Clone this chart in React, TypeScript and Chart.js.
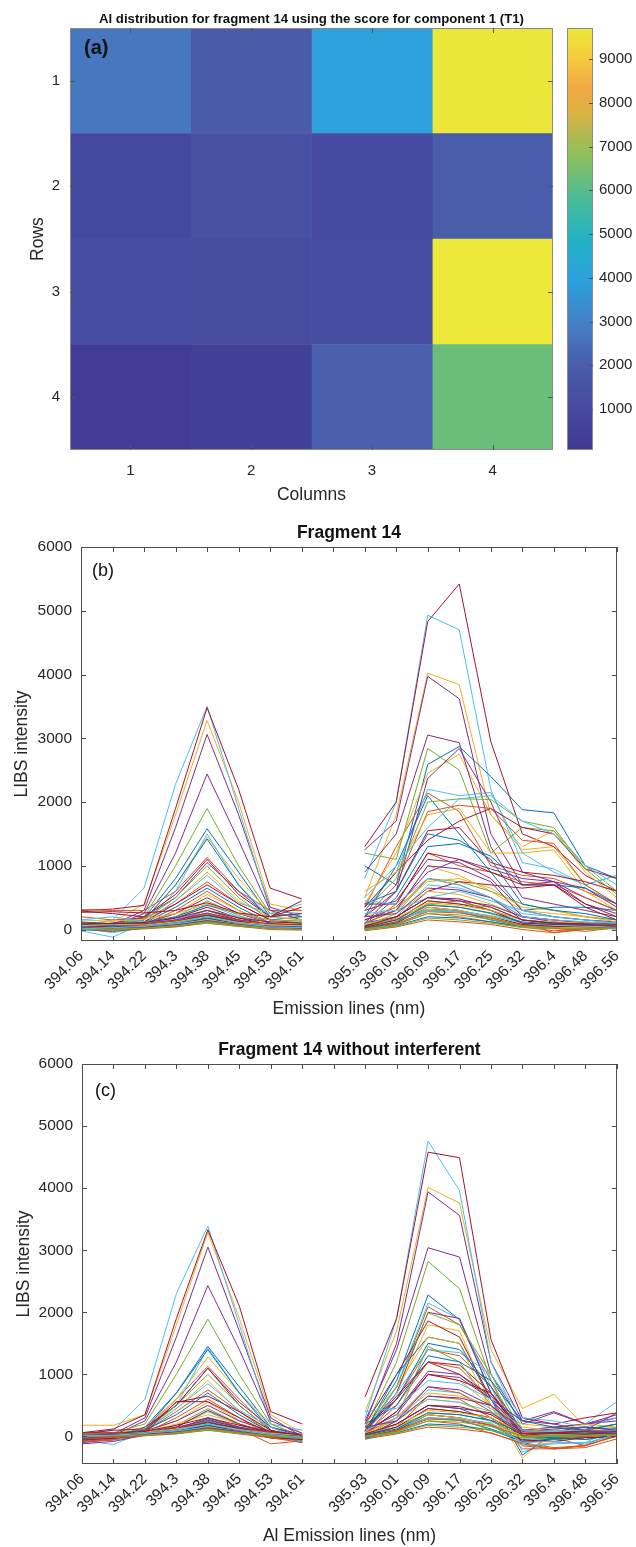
import React, { useEffect, useRef } from 'react';
import { Chart, registerables } from 'chart.js';

Chart.register(...registerables);

const FONT = '"Liberation Sans", Arial, Helvetica, sans-serif';
const TEXT = '#262626';
const AXIS = '#4d4d4d';
const PALETTE = ['#0072BD', '#D95319', '#EDB120', '#7E2F8E', '#77AC30', '#4DBEEE', '#A2142F'];

// ---------------- panel (a): heat map ----------------
const heatTitle = 'Al distribution for fragment 14 using the score for component 1 (T1)';
const heatPanelLabel = '(a)';
const rowLabels = ['1', '2', '3', '4'];
const columnNumbers = [1, 2, 3, 4];
const heatValues = [
  [2700, 1900, 3950, 9650],
  [950, 1400, 1100, 2000],
  [1200, 1150, 1200, 9700],
  [200, 500, 2050, 6300],
];
const colorbarMin = 63;
const colorbarMax = 9709;
const colorbarTicks = [1000, 2000, 3000, 4000, 5000, 6000, 7000, 8000, 9000];

// faded parula-like colour map (position 0..1, colour)
const CMAP: [number, string][] = [
  [0.0, '#3f3a94'],
  [0.1, '#4649a0'],
  [0.2, '#4a5dab'],
  [0.3, '#4480c6'],
  [0.4, '#2ca0dc'],
  [0.5, '#22b2c4'],
  [0.6, '#4cbc94'],
  [0.7, '#8ec05a'],
  [0.8, '#dcb244'],
  [0.86, '#f2a845'],
  [0.93, '#f6cc3c'],
  [1.0, '#ebe83a'],
];

// ---------------- panels (b) and (c): spectra ----------------
const linesLeft = ['394.06', '394.14', '394.22', '394.3', '394.38', '394.45', '394.53', '394.61'];
const linesRight = ['395.93', '396.01', '396.09', '396.17', '396.25', '396.32', '396.4', '396.48', '396.56'];
const intensityTicks = [0, 1000, 2000, 3000, 4000, 5000, 6000];
const intensityMax = 6000;
const rawMin = -180;
const cleanMin = -444;

// each row: 8 values on the left lines, then 9 values on the right lines
const rawSpectra = [
  [80, 40, 60, 150, 300, 150, 60, 80, 100, 150, 300, 280, 150, 60, 40, 60, 80],
  [30, 10, 40, 100, 220, 120, 40, 20, 20, 80, 250, 200, 120, 40, -20, 10, 40],
  [100, 120, 400, 1800, 3280, 2000, 400, 300, 500, 1800, 4020, 3840, 1800, 1250, 1300, 700, 400],
  [50, 80, 300, 1600, 3060, 1800, 350, 200, 1250, 1700, 3970, 3620, 1500, 700, 750, 500, 300],
  [20, 30, 50, 120, 250, 130, 50, 30, 30, 120, 320, 300, 180, 60, 50, 40, 70],
  [60, 150, 650, 2280, 3500, 1900, 300, 250, 800, 2000, 4930, 4700, 2200, 1050, 950, 700, 850],
  [300, 320, 380, 1900, 3480, 2200, 650, 480, 1300, 2000, 4830, 5420, 2950, 1500, 1300, 850, 600],
  [40, 100, 180, 800, 1580, 900, 200, 250, 1000, 700, 2590, 2870, 2400, 1880, 1830, 1000, 800],
  [310, 300, 300, 600, 1130, 600, 300, 300, 350, 1300, 2140, 1850, 1000, 850, 800, 600, 400],
  [20, 50, 150, 700, 1450, 800, 250, 200, 400, 1200, 2450, 2750, 1800, 1300, 1550, 900, 500],
  [30, 60, 250, 1200, 2440, 1400, 300, 150, 900, 1500, 3050, 2930, 1300, 500, 400, 300, 200],
  [80, 60, 200, 1000, 1900, 1000, 250, 200, 1200, 1100, 2840, 2500, 1200, 1600, 1550, 1000, 600],
  [-20, -120, 100, 600, 1500, 700, 200, 150, 300, 900, 2200, 2100, 2150, 1200, 900, 700, 850],
  [290, 250, 200, 550, 1100, 550, 200, 350, 350, 900, 1400, 1700, 1900, 1600, 1500, 950, 800],
  [100, 80, 150, 700, 1420, 700, 150, 200, 200, 1000, 2100, 1500, 900, 300, 350, 350, 300],
  [200, 150, 180, 400, 750, 400, 150, 100, 200, 700, 1850, 1950, 1900, 1400, 1350, 700, 400],
  [70, 40, 120, 450, 900, 450, 200, 150, 600, 900, 1800, 1900, 1200, 1200, 1250, 600, 300],
  [60, 100, 200, 500, 1050, 600, 200, 250, 200, 600, 2370, 2840, 2000, 900, 750, 650, 350],
  [50, 80, 150, 500, 1000, 500, 150, 100, 300, 800, 2000, 2050, 2040, 1700, 1600, 950, 550],
  [80, 60, 100, 450, 850, 420, 250, 400, 500, 1000, 1600, 2050, 2100, 1700, 1500, 1000, 700],
  [40, 30, 120, 400, 700, 400, 150, 100, 100, 600, 1550, 1600, 1050, 900, 850, 750, 600],
  [30, 60, 100, 350, 650, 350, 100, 50, 80, 500, 1300, 1350, 1150, 700, 700, 650, 400],
  [50, 20, 80, 300, 600, 300, 100, 50, 50, 400, 1200, 1000, 900, 750, 700, 500, 300],
  [20, 40, 80, 250, 550, 300, 80, 60, 100, 300, 1000, 850, 600, 300, 250, 200, 150],
  [40, 60, 100, 250, 500, 250, 100, 80, 150, 350, 900, 1100, 950, 800, 750, 400, 250],
  [10, 30, 60, 200, 450, 220, 60, 40, 60, 250, 800, 750, 600, 400, 300, 200, 150],
  [0, 20, 40, 150, 400, 200, 50, 30, 30, 200, 700, 650, 500, 250, 200, 150, 100],
  [30, 50, 80, 180, 350, 180, 70, 50, 40, 180, 600, 750, 700, 650, 700, 350, 150],
  [120, 90, 110, 200, 380, 250, 150, 130, 100, 200, 500, 450, 300, 150, 100, 80, 120],
  [60, 30, 70, 150, 250, 150, 80, 40, 0, 100, 400, 450, 300, 100, -50, 20, 60],
  [150, 130, 160, 250, 400, 250, 150, 120, 50, 250, 600, 550, 400, 200, 150, 120, 90],
  [0, 10, 30, 100, 200, 120, 40, 20, 300, 450, 1100, 1050, 800, 300, 200, 150, 120],
  [100, 50, 40, 120, 250, 120, 40, 60, 80, 150, 450, 400, 350, 150, 100, 60, 40],
  [20, -50, 30, 80, 180, 90, 50, 30, 20, 80, 300, 280, 200, 80, 60, 40, 30],
  [270, 280, 260, 300, 420, 260, 200, 450, 400, 400, 1200, 1100, 900, 700, 700, 400, 200],
  [0, -30, 20, 60, 150, 60, 20, 10, 0, 60, 200, 180, 120, 50, 30, 20, 10],
  [40, 20, 50, 120, 300, 150, 60, 30, 100, 300, 800, 700, 500, 200, 150, 100, 80],
  [80, 60, 90, 140, 200, 130, 80, 100, 200, 350, 750, 800, 650, 350, 300, 200, 120],
  [20, 0, 20, 50, 120, 60, 20, 0, 150, 300, 1000, 950, 750, 200, 120, 80, 60],
  [30, 40, 50, 100, 160, 100, 40, 20, 50, 150, 400, 350, 250, 100, 80, 50, 30],
  [150, 200, 120, 150, 300, 200, 120, 100, 250, 300, 500, 600, 450, 300, 200, 150, 100],
  [10, 20, 40, 80, 180, 90, 30, 10, 20, 100, 350, 300, 200, 80, 50, 40, 20],
  [50, 30, 70, 120, 220, 120, 60, 40, 400, 600, 1500, 1400, 1100, 400, 300, 250, 150],
  [0, -20, 10, 40, 100, 50, 0, -10, -20, 40, 150, 120, 80, 0, -50, 0, 20],
  [20, 30, 40, 90, 150, 80, 30, 20, 30, 120, 350, 300, 200, 50, 30, 40, 50],
  [80, 70, 90, 150, 260, 150, 90, 70, 60, 200, 500, 450, 380, 200, 150, 100, 90],
  [10, 0, 20, 50, 100, 50, 20, 10, 0, 50, 180, 150, 100, 30, 10, 20, 30],
  [40, 50, 60, 90, 140, 80, 50, 40, 100, 150, 300, 280, 220, 100, 80, 60, 50],
  [60, 40, 70, 130, 230, 130, 60, 50, 30, 150, 450, 400, 300, 100, 80, 70, 60],
  [70, 60, 50, 100, 180, 110, 60, 50, 20, 120, 380, 350, 260, 120, 90, 70, 50],
  [20, 10, 30, 60, 130, 70, 30, 20, 10, 90, 280, 260, 180, 60, 20, -30, 30],
  [60, 80, 70, 120, 200, 110, 70, 60, 80, 180, 420, 380, 300, 150, 120, 100, 70],
  [30, 20, 40, 70, 140, 80, 40, 20, 200, 250, 650, 620, 500, 150, 100, 80, 50],
  [0, 10, 20, 60, 120, 70, 20, 0, 10, 70, 250, 230, 160, 50, 30, 10, 20],
  [10, 30, 50, 100, 200, 100, 40, 30, 450, 400, 800, 700, 500, 200, 150, 120, 90],
  [100, 90, 110, 180, 300, 180, 120, 100, 50, 200, 500, 480, 350, 150, 100, 90, 80],
];

const cleanSpectra = [
  [-50, -30, 20, 120, 280, 130, 20, -40, -30, 100, 300, 260, 120, -50, -30, 20, 40],
  [30, 10, 40, 90, 200, 90, -30, -60, 20, 80, 250, 200, 50, -100, -180, -150, 20],
  [180, 180, 350, 1800, 3290, 1900, 350, 50, 400, 1700, 4010, 3760, 1400, 450, 680, 150, 100],
  [20, 40, 300, 1600, 3050, 1700, 300, 0, 200, 1500, 3940, 3560, 1200, 250, 400, 200, 350],
  [0, 20, 50, 100, 230, 100, 20, -20, 0, 100, 300, 280, 100, -30, -10, 0, 30],
  [40, 100, 600, 2300, 3390, 1800, 200, 100, 300, 1900, 4760, 3960, 1200, 100, 150, 200, 560],
  [60, 120, 350, 1900, 3330, 2100, 400, 200, 640, 1900, 4580, 4490, 1560, 300, 200, 300, 380],
  [-20, 0, 150, 700, 1450, 800, 150, 0, 100, 900, 2280, 1880, 700, 0, -50, 20, 80],
  [30, -50, 100, 600, 1130, 600, 100, -100, 50, 800, 2090, 1800, 900, -150, -200, -180, -40],
  [-30, 50, 150, 600, 1280, 700, 200, 0, 80, 700, 1800, 1700, 500, -350, 100, 50, 80],
  [-10, 20, 250, 1200, 2430, 1400, 250, 50, 250, 1400, 3040, 2890, 1000, 200, 380, 200, 300],
  [30, 60, 200, 1000, 1890, 1000, 200, 0, 150, 1200, 2820, 2380, 900, 0, 50, 100, 50],
  [-60, -130, 80, 500, 1430, 700, 150, -50, 30, 800, 2150, 1890, 800, -250, -100, -100, 150],
  [40, 100, 120, 500, 1100, 500, 100, -100, 200, 1000, 1860, 1600, 600, -100, -50, 0, 100],
  [60, 20, 100, 700, 1400, 700, 100, -80, 80, 1000, 1600, 1500, 600, -300, 50, 100, 200],
  [-80, -40, 80, 400, 750, 400, 50, -80, 0, 600, 1400, 1300, 800, 0, -20, -150, 100],
  [40, 20, 100, 450, 900, 400, 80, -50, 200, 800, 1600, 1500, 400, 200, 150, 100, 150],
  [-100, -50, 150, 500, 1100, 550, 150, 30, 100, 700, 2000, 1900, 700, 100, 150, 200, 250],
  [20, 30, 120, 500, 1000, 500, 100, -20, 100, 800, 1990, 1800, 1000, 50, 80, 120, 200],
  [50, 0, 80, 450, 850, 420, 150, -50, 50, 700, 1400, 1350, 1000, 300, 250, 150, 300],
  [-30, 20, 100, 550, 650, 400, 100, 0, 100, 650, 1200, 1150, 700, 0, 50, 30, 100],
  [0, 40, 100, 350, 700, 350, 60, -20, 80, 600, 1500, 1400, 800, 100, 80, 150, 120],
  [20, -10, 60, 300, 600, 300, 0, -50, 40, 500, 1200, 1100, 600, 50, 0, -50, 30],
  [0, 30, 70, 250, 550, 260, 50, -30, 50, 400, 1000, 900, 500, -150, -100, 50, 80],
  [10, 30, 90, 250, 500, 250, 80, 30, 60, 400, 1050, 1000, 600, 250, 200, 100, 380],
  [-20, 10, 40, 180, 450, 200, 40, -30, 0, 300, 1450, 1200, 500, 0, -50, 0, 50],
  [-40, 0, 30, 150, 400, 180, 30, -60, -30, 250, 750, 700, 450, 50, 100, 50, 150],
  [0, 20, 60, 560, 560, 300, 50, -10, 150, 600, 1200, 1000, 650, 100, 50, 0, 50],
  [20, 0, 50, 120, 300, 150, 40, 0, 0, 200, 500, 450, 250, 0, -20, -50, 30],
  [-80, -60, 30, 100, 250, 120, -120, -70, 20, 150, 650, 600, 300, -200, -200, -140, 0],
  [60, 40, 80, 200, 350, 200, 60, 20, 80, 250, 600, 550, 350, 100, 50, 80, 100],
  [-120, -80, 20, 100, 200, 100, 0, -80, 100, 350, 1000, 950, 600, 50, 20, 30, 60],
  [30, 20, 40, 100, 250, 100, 30, 0, 0, 150, 450, 400, 300, 50, 0, 20, 40],
  [-20, -40, 20, 80, 180, 80, 20, -100, -50, 100, 350, 300, 200, -150, -120, -100, 20],
  [-30, -20, 40, 150, 420, 200, 50, -20, 40, 400, 1000, 900, 700, 20, 0, 50, 80],
  [0, -20, 20, 60, 150, 60, 0, -40, -20, 60, 200, 180, 100, -80, -40, -20, 0],
  [10, 30, 50, 120, 300, 150, 50, -30, 60, 300, 800, 700, 400, 0, 30, 10, 50],
  [40, 30, 60, 120, 200, 120, 40, 10, 40, 300, 700, 650, 500, 150, 100, 200, 150],
  [0, -30, 20, 50, 120, 60, 0, -50, 0, 250, 800, 750, 500, 100, 80, 50, 100],
  [-10, 20, 30, 80, 160, 80, 20, -40, 20, 150, 380, 350, 250, 0, 20, 40, 30],
  [20, 40, 50, 120, 250, 120, 60, -80, 100, 300, 600, 550, 400, 50, 30, 60, 80],
  [-60, -30, 20, 80, 180, 80, -20, -50, 0, 100, 350, 300, 180, -60, -80, -20, 0],
  [30, 20, 60, 120, 220, 120, 30, -10, 200, 500, 1300, 1200, 900, 250, 150, 100, 200],
  [0, -20, 10, 40, 100, 40, -20, -100, -40, 40, 150, 120, 60, -120, -200, -150, 20],
  [20, 10, 40, 90, 150, 80, 20, -20, 10, 120, 350, 300, 200, 20, 40, 60, 70],
  [50, 60, 80, 150, 260, 150, 60, 20, 40, 200, 500, 450, 380, 80, 120, 150, 100],
  [0, 0, 20, 50, 100, 50, 0, -30, -10, 50, 180, 150, 100, -20, 0, 10, 20],
  [20, 30, 50, 90, 140, 80, 40, 0, 50, 150, 300, 280, 220, -100, -80, -120, 40],
  [40, 30, 60, 130, 230, 130, 40, 0, 20, 150, 450, 400, 300, 20, 50, 40, 60],
  [50, 40, 60, 100, 180, 100, 40, 10, 20, 120, 380, 350, 260, 50, 60, 70, 50],
  [10, 0, 30, 60, 130, 60, 10, -20, 0, 90, 280, 260, 180, 0, 20, 0, 30],
  [40, 50, 70, 120, 200, 110, 50, 20, 60, 180, 420, 380, 300, 60, 80, 100, 70],
  [20, 10, 40, 70, 140, 80, 20, -10, 150, 250, 650, 620, 500, 50, 60, 80, 50],
  [0, 10, 20, 60, 120, 60, 10, -20, 0, 70, 250, 230, 160, 0, 20, 10, 20],
  [10, 20, 50, 100, 200, 100, 30, -10, 400, 450, 900, 850, 600, 100, 80, 100, 90],
  [60, 50, 80, 180, 300, 180, 80, 20, 40, 200, 500, 480, 350, 50, 60, 90, 80],
];

// ---------------- helpers ----------------
function hexToRgb(h: string) {
  const n = parseInt(h.slice(1), 16);
  return [(n >> 16) & 255, (n >> 8) & 255, n & 255];
}
function colorFor(v: number) {
  const t = Math.min(1, Math.max(0, (v - colorbarMin) / (colorbarMax - colorbarMin)));
  for (let i = 0; i < CMAP.length - 1; i++) {
    const [t0, c0] = CMAP[i];
    const [t1, c1] = CMAP[i + 1];
    if (t >= t0 && t <= t1) {
      const f = (t - t0) / (t1 - t0 || 1);
      const a = hexToRgb(c0), b = hexToRgb(c1);
      const m = a.map((x, k) => Math.round(x + (b[k] - x) * f));
      return `rgb(${m[0]},${m[1]},${m[2]})`;
    }
  }
  return CMAP[CMAP.length - 1][1];
}
function line(ctx: CanvasRenderingContext2D, x0: number, y0: number, x1: number, y1: number) {
  ctx.beginPath();
  ctx.moveTo(x0, y0);
  ctx.lineTo(x1, y1);
  ctx.stroke();
}
const snap = (v: number) => Math.round(v) + 0.5;
const plainNumber = (v: any) => `${v}`;

// ---------------- panel (a) ----------------
const heatDecor = {
  id: 'heatDecor',
  afterDraw(chart: any) {
    const { ctx, chartArea: a, scales } = chart;
    const x = scales.x, y = scales.y, cb = scales.cb;
    ctx.save();
    ctx.strokeStyle = '#8a8a8a';
    ctx.lineWidth = 1;
    ctx.strokeRect(snap(a.left), snap(a.top), Math.round(a.right - a.left) - 1, Math.round(a.bottom - a.top) - 1);
    const tl = 5;
    ctx.strokeStyle = '#555';
    x.ticks.forEach((t: any) => {
      const px = snap(x.getPixelForValue(t.value));
      line(ctx, px, a.bottom, px, a.bottom - tl);
      line(ctx, px, a.top, px, a.top + tl);
    });
    y.ticks.forEach((_t: any, i: number) => {
      const py = snap(y.getPixelForTick(i));
      line(ctx, a.left, py, a.left + tl, py);
      line(ctx, a.right, py, a.right - tl, py);
    });
    // colour bar
    const bx0 = Math.round(cb.left + 14);
    const bx1 = Math.round(cb.left + 40);
    const grad = ctx.createLinearGradient(0, cb.getPixelForValue(colorbarMin), 0, cb.getPixelForValue(colorbarMax));
    CMAP.forEach(([t, c]) => grad.addColorStop(t, c));
    ctx.fillStyle = grad;
    ctx.fillRect(bx0, cb.top, bx1 - bx0, cb.bottom - cb.top);
    ctx.strokeStyle = '#8a8a8a';
    ctx.strokeRect(bx0 + 0.5, snap(cb.top), bx1 - bx0 - 1, Math.round(cb.bottom - cb.top) - 1);
    ctx.strokeStyle = '#555';
    colorbarTicks.forEach((v) => {
      const py = snap(cb.getPixelForValue(v));
      line(ctx, bx1 - 4, py, bx1, py);
    });
    ctx.fillStyle = '#111';
    ctx.font = `bold 20px ${FONT}`;
    ctx.textBaseline = 'middle';
    ctx.textAlign = 'left';
    ctx.fillText(heatPanelLabel, a.left + 14, a.top + 20);
    ctx.restore();
  },
};

function heatConfig(): any {
  return {
    type: 'bar',
    data: {
      labels: rowLabels,
      datasets: columnNumbers.map((c, j) => ({
        data: heatValues.map(() => [c - 0.5, c + 0.5]),
        backgroundColor: heatValues.map((row) => colorFor(row[j])),
        borderWidth: 0,
        barPercentage: 1,
        categoryPercentage: 1,
        grouped: false,
      })),
    },
    options: {
      indexAxis: 'y',
      animation: false,
      responsive: false,
      events: [],
      layout: { padding: 0 },
      plugins: {
        legend: { display: false },
        tooltip: { enabled: false },
        title: {
          display: true,
          text: heatTitle,
          fullSize: false,
          color: '#111',
          font: { family: FONT, size: 13.2, weight: 'bold' },
          padding: { top: 11, bottom: 1.2 },
        },
      },
      scales: {
        x: {
          type: 'linear',
          min: 0.5,
          max: 4.5,
          afterBuildTicks: (s: any) => {
            s.ticks = columnNumbers.map((v) => ({ value: v }));
          },
          grid: { display: false, drawTicks: false },
          border: { display: false },
          ticks: { color: TEXT, font: { family: FONT, size: 15 }, padding: 12, callback: plainNumber },
          title: { display: true, text: 'Columns', color: TEXT, font: { family: FONT, size: 17.5 }, padding: { top: 0, bottom: 4.5 } },
          afterFit: (s: any) => {
            s.height = 60;
          },
        },
        y: {
          type: 'category',
          grid: { display: false, drawTicks: false },
          border: { display: false },
          ticks: { color: TEXT, font: { family: FONT, size: 15 }, padding: 10 },
          title: { display: true, text: 'Rows', color: TEXT, font: { family: FONT, size: 17.5 }, padding: { top: 27.5, bottom: 0 } },
          afterFit: (s: any) => {
            s.width = 70;
          },
        },
        cb: {
          type: 'linear',
          position: 'right',
          offset: false,
          min: colorbarMin,
          max: colorbarMax,
          afterBuildTicks: (s: any) => {
            s.ticks = colorbarTicks.map((v) => ({ value: v }));
          },
          // labels sit to the right of the colour bar: the bar width is reserved as tick length
          grid: { display: false, drawTicks: true, tickLength: 44, offset: false },
          border: { display: false },
          ticks: { color: TEXT, font: { family: FONT, size: 15 }, padding: 2, callback: plainNumber },
          afterFit: (s: any) => {
            s.width = 83;
          },
        },
      },
    },
    plugins: [heatDecor],
  };
}

// ---------------- panels (b)/(c) ----------------
function matlabAxes(panelLabel: string, labelDx: number, labelDy: number) {
  return {
    id: 'matlabAxes',
    afterDraw(chart: any) {
      const { ctx, chartArea: a, scales } = chart;
      const x = scales.x, y = scales.y;
      ctx.save();
      ctx.strokeStyle = AXIS;
      ctx.lineWidth = 1;
      ctx.strokeRect(snap(a.left), snap(a.top), Math.round(a.right - a.left) - 1, Math.round(a.bottom - a.top) - 1);
      const tl = 5;
      x.ticks.forEach((_t: any, i: number) => {
        const px = snap(x.getPixelForTick(i));
        line(ctx, px, a.bottom, px, a.bottom - tl);
        line(ctx, px, a.top, px, a.top + tl);
      });
      y.ticks.forEach((t: any) => {
        const py = snap(y.getPixelForValue(t.value));
        line(ctx, a.left, py, a.left + tl, py);
        line(ctx, a.right, py, a.right - tl, py);
      });
      ctx.fillStyle = '#111';
      ctx.font = `18px ${FONT}`;
      ctx.textBaseline = 'middle';
      ctx.textAlign = 'left';
      ctx.fillText(panelLabel, a.left + labelDx, a.top + labelDy);
      ctx.restore();
    },
  };
}

function spectraConfig(
  spectra: number[][],
  yMin: number,
  title: string,
  xTitle: string,
  panelLabel: string,
  dims: { titleTop: number; titleBottom: number; xHeight: number; yWidth: number; padRight: number; yTitlePad: number; xTitlePad: number; labelDx: number; labelDy: number }
): any {
  const n = linesLeft.length;
  return {
    type: 'line',
    data: {
      labels: [...linesLeft, '', ...linesRight],
      datasets: spectra.map((row, i) => ({
        data: [...row.slice(0, n), null, ...row.slice(n)],
        borderColor: PALETTE[i % PALETTE.length],
        borderWidth: 1,
        pointRadius: 0,
        tension: 0,
        fill: false,
        spanGaps: false,
        order: -i,
      })),
    },
    options: {
      animation: false,
      responsive: false,
      events: [],
      layout: { padding: { left: 0, top: 0, bottom: 0, right: dims.padRight } },
      plugins: {
        legend: { display: false },
        tooltip: { enabled: false },
        title: {
          display: true,
          text: title,
          fullSize: false,
          color: '#111',
          font: { family: FONT, size: 17.5, weight: 'bold' },
          padding: { top: dims.titleTop, bottom: dims.titleBottom },
        },
      },
      scales: {
        x: {
          type: 'category',
          offset: false,
          grid: { display: false, drawTicks: false },
          border: { display: false },
          ticks: { color: TEXT, font: { family: FONT, size: 15.5 }, padding: 6, autoSkip: false, maxRotation: 45, minRotation: 45 },
          title: { display: true, text: xTitle, color: TEXT, font: { family: FONT, size: 17.5 }, padding: { top: 0, bottom: dims.xTitlePad } },
          afterFit: (s: any) => {
            s.height = dims.xHeight;
          },
        },
        y: {
          type: 'linear',
          min: yMin,
          max: intensityMax,
          afterBuildTicks: (s: any) => {
            s.ticks = intensityTicks.map((v) => ({ value: v }));
          },
          grid: { display: false, drawTicks: false },
          border: { display: false },
          ticks: { color: TEXT, font: { family: FONT, size: 15.5 }, padding: 9, callback: plainNumber },
          title: { display: true, text: 'LIBS intensity', color: TEXT, font: { family: FONT, size: 17.5 }, padding: { top: dims.yTitlePad, bottom: 0 } },
          afterFit: (s: any) => {
            s.width = dims.yWidth;
          },
        },
      },
    },
    plugins: [matlabAxes(panelLabel, dims.labelDx, dims.labelDy)],
  };
}

function ChartCanvas({ make, top, height }: { make: () => any; top: number; height: number }) {
  const ref = useRef<HTMLCanvasElement | null>(null);
  useEffect(() => {
    if (!ref.current) return;
    const chart = new Chart(ref.current, make());
    return () => chart.destroy();
  }, []);
  return (
    <canvas
      ref={ref}
      width={636}
      height={height}
      style={{ position: 'absolute', left: 0, top, width: 636, height, display: 'block' }}
    />
  );
}

export default function App() {
  return (
    <div style={{ position: 'absolute', left: 0, top: 0, width: 636, height: 1547, background: '#fff', overflow: 'hidden' }}>
      <ChartCanvas make={heatConfig} top={0} height={510} />
      <ChartCanvas
        top={510}
        height={510}
        make={() =>
          spectraConfig(rawSpectra, rawMin, 'Fragment 14', 'Emission lines (nm)', '(b)', {
            titleTop: 12.5,
            titleBottom: 3.5,
            xHeight: 79,
            yWidth: 81,
            padRight: 18,
            yTitlePad: 12,
            xTitlePad: 0.5,
            labelDx: 11,
            labelDy: 24.5,
          })
        }
      />
      <ChartCanvas
        top={1020}
        height={527}
        make={() =>
          spectraConfig(cleanSpectra, cleanMin, 'Fragment 14 without interferent', 'Al Emission lines (nm)', '(c)', {
            titleTop: 19.5,
            titleBottom: 3.5,
            xHeight: 83,
            yWidth: 82,
            padRight: 13,
            yTitlePad: 13.5,
            xTitlePad: 0,
            labelDx: 13,
            labelDy: 27.5,
          })
        }
      />
    </div>
  );
}
